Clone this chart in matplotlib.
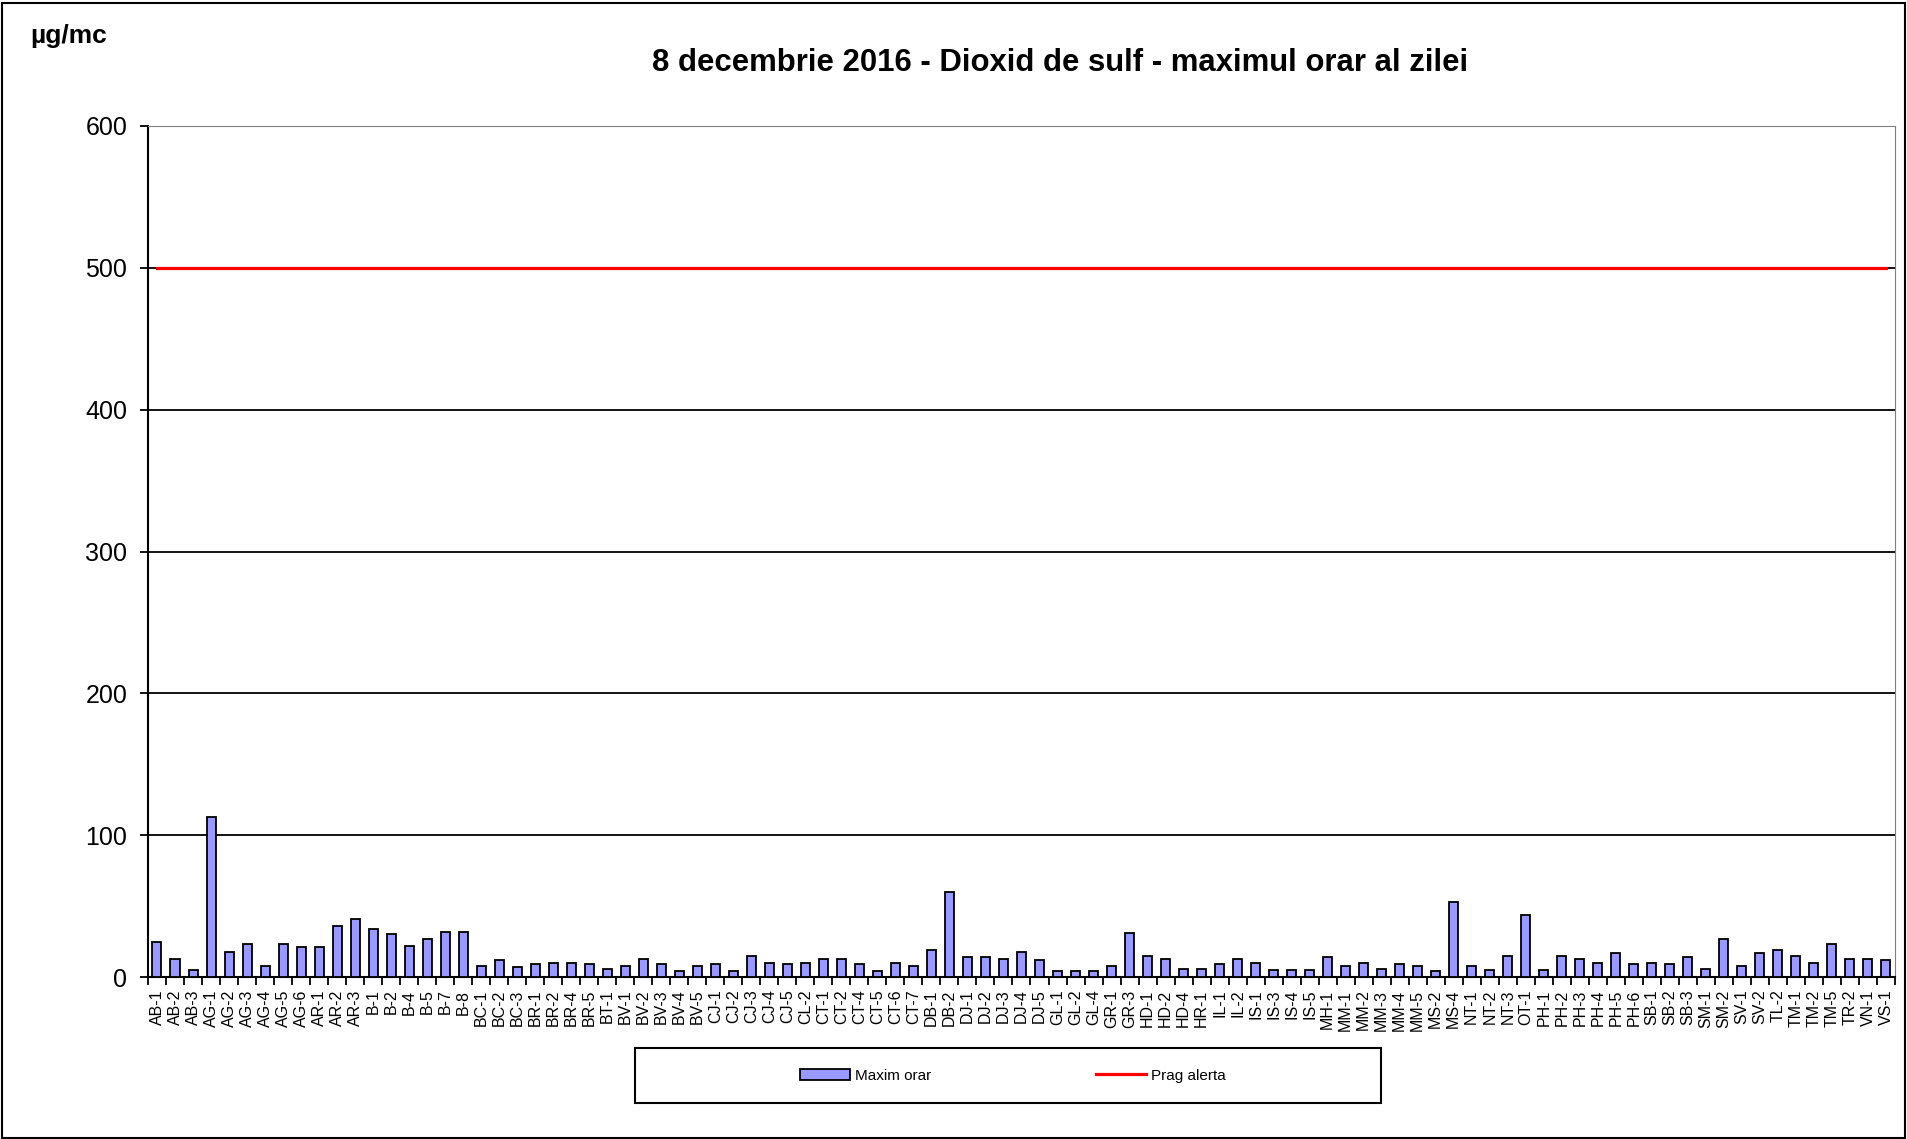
import numpy as np
import matplotlib
matplotlib.use("Agg")
import matplotlib.pyplot as plt
from matplotlib.patches import Rectangle, Patch
from matplotlib.lines import Line2D

plt.rcParams['font.family'] = ['Liberation Sans', 'DejaVu Sans']

stations = ["AB-1", "AB-2", "AB-3", "AG-1", "AG-2", "AG-3", "AG-4", "AG-5", "AG-6",
            "AR-1", "AR-2", "AR-3", "B-1", "B-2", "B-4", "B-5", "B-7", "B-8",
            "BC-1", "BC-2", "BC-3", "BR-1", "BR-2", "BR-4", "BR-5", "BT-1",
            "BV-1", "BV-2", "BV-3", "BV-4", "BV-5", "CJ-1", "CJ-2", "CJ-3", "CJ-4", "CJ-5",
            "CL-2", "CT-1", "CT-2", "CT-4", "CT-5", "CT-6", "CT-7", "DB-1", "DB-2",
            "DJ-1", "DJ-2", "DJ-3", "DJ-4", "DJ-5", "GL-1", "GL-2", "GL-4", "GR-1", "GR-3",
            "HD-1", "HD-2", "HD-4", "HR-1", "IL-1", "IL-2", "IS-1", "IS-3", "IS-4", "IS-5",
            "MH-1", "MM-1", "MM-2", "MM-3", "MM-4", "MM-5", "MS-2", "MS-4",
            "NT-1", "NT-2", "NT-3", "OT-1", "PH-1", "PH-2", "PH-3", "PH-4", "PH-5", "PH-6",
            "SB-1", "SB-2", "SB-3", "SM-1", "SM-2", "SV-1", "SV-2", "TL-2",
            "TM-1", "TM-2", "TM-5", "TR-2", "VN-1", "VS-1"]

maxim_orar = [25, 13, 5, 113, 18, 23, 8, 23, 21,
              21, 36, 41, 34, 30, 22, 27, 32, 32,
              8, 12, 7, 9, 10, 10, 9, 6,
              8, 13, 9, 4, 8, 9, 4, 15, 10, 9,
              10, 13, 13, 9, 4, 10, 8, 19, 60,
              14, 14, 13, 18, 12, 4, 4, 4, 8, 31,
              15, 13, 6, 6, 9, 13, 10, 5, 5, 5,
              14, 8, 10, 6, 9, 8, 4, 53,
              8, 5, 15, 44, 5, 15, 13, 10, 17, 9,
              10, 9, 14, 6, 27, 8, 17, 19,
              15, 10, 23, 13, 13, 12]

prag_alerta = [500] * len(stations)

fig = plt.figure(figsize=(19.07, 11.39), dpi=100)
ax = fig.add_axes([0.0776, 0.1422, 0.9161, 0.7472])

x = np.arange(len(stations))
ax.bar(x, maxim_orar, width=0.5, color='#9999FF', edgecolor='black', linewidth=1.3, zorder=3)
ax.plot(x, prag_alerta, color='#FF0000', linewidth=2.3, zorder=4)

ax.set_xlim(-0.5, len(stations) - 0.5)
ax.set_ylim(0, 600)
ax.set_yticks(range(0, 601, 100))
ax.tick_params(axis='y', labelsize=18, length=6, width=1.3, direction='out', pad=9)
ax.yaxis.grid(True, color='black', linewidth=1.3)
ax.set_axisbelow(True)

ax.set_xticks(x)
ax.set_xticklabels(stations, rotation=90, fontsize=11.5)
ax.tick_params(axis='x', length=0, pad=9)
ax.set_xticks(np.arange(-0.5, len(stations)), minor=True)
ax.tick_params(axis='x', which='minor', length=6, width=1.3, direction='out')

ax.spines['left'].set_linewidth(1.5)
ax.spines['bottom'].set_linewidth(1.5)
ax.spines['top'].set_color('#808080')
ax.spines['right'].set_color('#808080')

fig.text(0.556, 0.945, "8 decembrie 2016 - Dioxid de sulf - maximul orar al zilei",
         ha='center', va='center', fontsize=22.4, fontweight='bold')
fig.text(0.016, 0.968, "µg/mc", ha='left', va='center', fontsize=19, fontweight='bold')

# legend box
fig.patches.append(Rectangle((0.333, 0.0316), 0.391, 0.0483, transform=fig.transFigure,
                             fill=False, edgecolor='black', linewidth=1.5))
handles = [Patch(facecolor='#9999FF', edgecolor='black', linewidth=1.3),
           Line2D([0], [0], color='#FF0000', linewidth=2.3)]
fig.legend(handles, ["Maxim orar", "Prag alerta"], loc='center', bbox_to_anchor=(0.531, 0.0557),
           ncol=2, frameon=False, fontsize=11, handlelength=3.3, handleheight=0.7,
           handletextpad=0.3, columnspacing=10.8)

# outer border
fig.patches.append(Rectangle((0.0013, 0.001), 0.9974, 0.996, transform=fig.transFigure,
                             fill=False, edgecolor='black', linewidth=1.5))

plt.savefig('out.png', dpi=100)
